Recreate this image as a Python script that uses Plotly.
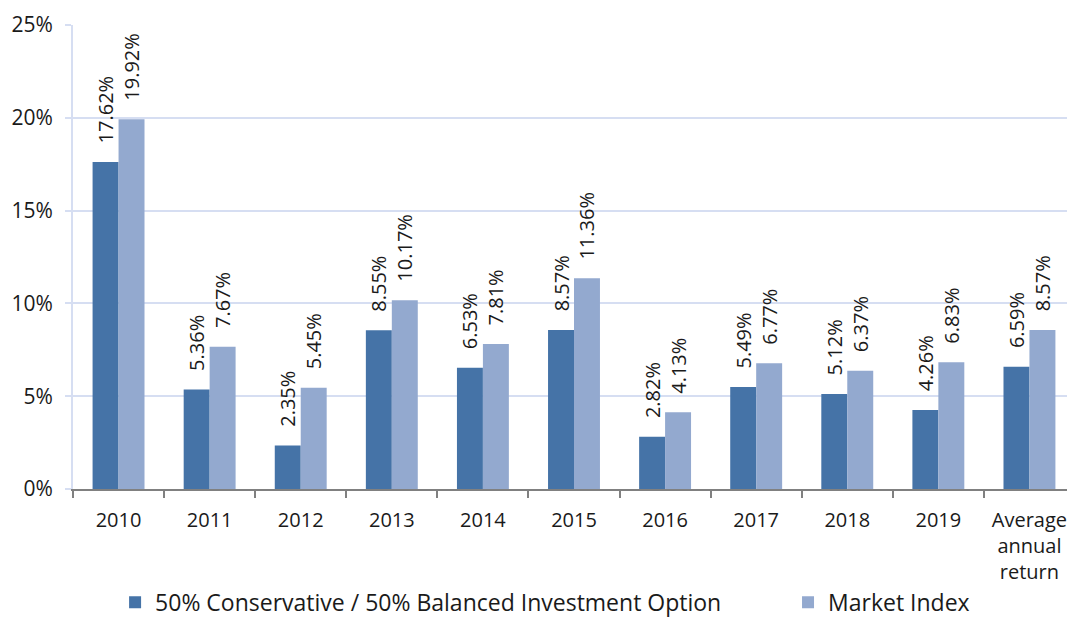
import plotly.graph_objects as go

categories = ["2010", "2011", "2012", "2013", "2014", "2015", "2016", "2017", "2018", "2019",
              "Average<br>annual<br>return"]
conservative = [17.62, 5.36, 2.35, 8.55, 6.53, 8.57, 2.82, 5.49, 5.12, 4.26, 6.59]
market = [19.92, 7.67, 5.45, 10.17, 7.81, 11.36, 4.13, 6.77, 6.37, 6.83, 8.57]
series_names = ["50% Conservative / 50% Balanced Investment Option", "Market Index"]
y_ticks = [0, 5, 10, 15, 20, 25]
y_tick_labels = ["0%", "5%", "10%", "15%", "20%", "25%"]

FONT = "Open Sans"
PAD = "\u00a0\u00a0\u00a0"
fig = go.Figure()
for name, vals, color, lg in [(series_names[0], conservative, "#4573a7", "legend"),
                              (series_names[1], market, "#93a9cf", "legend2")]:
    fig.add_trace(go.Bar(
        x=categories, y=vals, name=name, marker_color=color, marker_line_width=0,
        text=[f"{PAD}{v:.2f}%" for v in vals], textposition="outside", textangle=-90,
        constraintext="none", legend=lg, showlegend=True,
        textfont=dict(family=FONT, size=20, color="#1a1a1a"), cliponaxis=False,
    ))

legend_common = dict(orientation="h", xanchor="left", y=-0.244, yanchor="middle",
                     font=dict(size=23), bgcolor="rgba(0,0,0,0)", visible=True)
fig.update_layout(
    width=1067, height=611, barmode="group", bargap=0.43, bargroupgap=0,
    plot_bgcolor="white", paper_bgcolor="white", showlegend=True,
    margin=dict(l=65, r=0, t=17, b=130, autoexpand=False),
    font=dict(family=FONT, size=19, color="#1a1a1a"),
    legend=dict(x=0.042, **legend_common),
    legend2=dict(x=0.7136, **legend_common),
    xaxis=dict(showline=True, linecolor="#808080", linewidth=2, ticks="outside",
               tickson="boundaries", ticklen=7, tickcolor="#808080", tickwidth=2,
               tickfont=dict(size=20), automargin=False, ticklabelstandoff=12),
    yaxis=dict(range=[0, 25], tickvals=y_ticks, ticktext=y_tick_labels,
               showgrid=True, gridcolor="#d6def2", gridwidth=2, showline=True,
               linecolor="#d6def2", linewidth=2, ticks="outside", ticklen=6,
               tickcolor="#d6def2", tickwidth=2, zeroline=False, tickfont=dict(size=21),
               automargin=False, ticklabelstandoff=8),
)
fig.write_html("out.html")
